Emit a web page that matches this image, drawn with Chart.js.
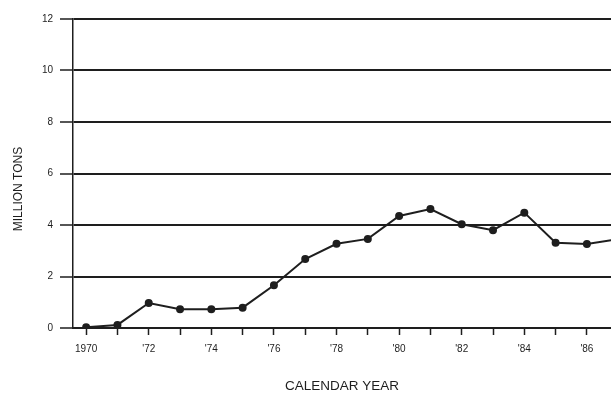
<!DOCTYPE html>
<html lang="en">
<head>
  <meta charset="UTF-8">
  <title>Million Tons by Calendar Year</title>
  <style>
    html, body { margin: 0; padding: 0; background: #fff; overflow: hidden; }
    #wrap { width: 611px; height: 397px; }
  </style>
</head>
<body>
  <div id="wrap"><canvas id="myChart" width="611" height="397"></canvas></div>

  <script src="https://cdn.jsdelivr.net/npm/chart.js"></script>
  <script>
    // chart data
    const years = [1970, 1971, 1972, 1973, 1974, 1975, 1976, 1977, 1978,
                   1979, 1980, 1981, 1982, 1983, 1984, 1985, 1986, 1987];
    const tons = [0.03, 0.12, 0.97, 0.73, 0.73, 0.79, 1.66, 2.68, 3.27,
                  3.46, 4.35, 4.62, 4.03, 3.80, 4.48, 3.31, 3.26, 3.45];
    const yTicks = [0, 2, 4, 6, 8, 10, 12];
    const xLabelYears = [1970, 1972, 1974, 1976, 1978, 1980, 1982, 1984, 1986];

    const ink = '#1e1e1e';
    const font = "'Liberation Sans', Arial, sans-serif";

    // rotated y title, placed a bit below the middle like the original
    const yTitle = {
      id: 'yTitle',
      afterDraw(chart) {
        const ctx = chart.ctx;
        ctx.save();
        ctx.translate(19, 189);
        ctx.rotate(-Math.PI / 2);
        ctx.font = '12px ' + font;
        ctx.fillStyle = ink;
        ctx.textAlign = 'center';
        ctx.textBaseline = 'middle';
        ctx.fillText('MILLION TONS', 0, 0);
        ctx.restore();
      }
    };

    function label(v) {
      if (!xLabelYears.includes(v)) return '';
      return v === 1970 ? '1970' : "'" + String(v).slice(2);
    }

    new Chart(document.getElementById('myChart'), {
      type: 'line',
      data: {
        datasets: [{
          data: years.map((y, i) => ({ x: y, y: tons[i] })),
          borderColor: ink,
          borderWidth: 2,
          pointRadius: 3,
          pointBackgroundColor: ink,
          pointBorderColor: ink,
          tension: 0
        }]
      },
      options: {
        responsive: false,
        animation: false,
        layout: { autoPadding: false, padding: { top: 19, right: 0, left: 0, bottom: 0 } },
        plugins: { legend: { display: false }, tooltip: { enabled: false } },
        scales: {
          x: {
            type: 'linear',
            min: 1969.58,
            max: 1986.77,
            afterFit: s => { s.height = 69; },
            ticks: {
              stepSize: 1,
              includeBounds: false,
              autoSkip: false,
              maxRotation: 0,
              padding: 8,
              color: ink,
              font: { family: font, size: 10 },
              callback: label
            },
            grid: { drawOnChartArea: false, color: ink, tickLength: 7, tickWidth: 1.5 },
            border: { color: ink, width: 2 },
            title: {
              display: true,
              text: 'CALENDAR YEAR',
              color: ink,
              font: { family: font, size: 13.5 },
              padding: { top: 0, bottom: 3 }
            }
          },
          y: {
            min: 0,
            max: 12,
            afterFit: s => { s.width = 73; },
            afterBuildTicks: s => { s.ticks = yTicks.map(v => ({ value: v })); },
            ticks: {
              padding: 7,
              color: ink,
              font: { family: font, size: 10 }
            },
            grid: { color: ink, lineWidth: 2, tickLength: 13, tickWidth: 1.5 },
            border: { color: ink, width: 1.5 }
          }
        }
      },
      plugins: [yTitle]
    });
  </script>
</body>
</html>
